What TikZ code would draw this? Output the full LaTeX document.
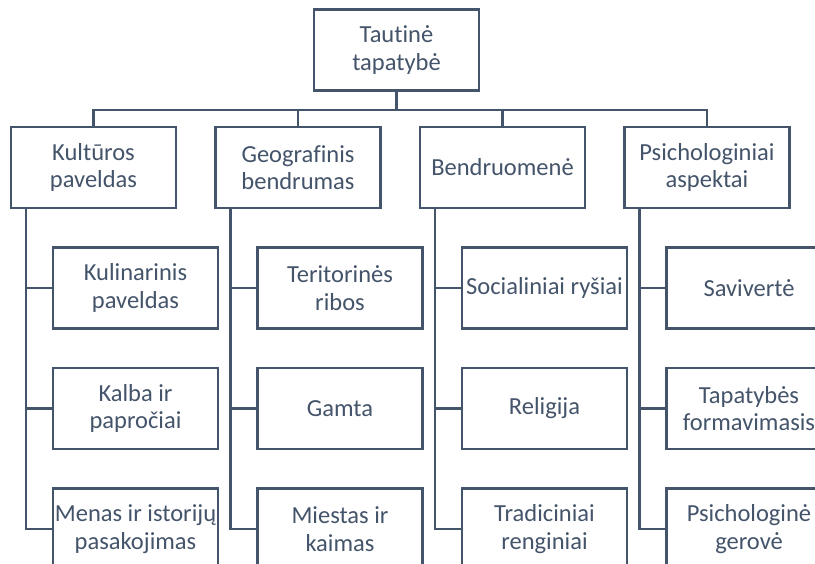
\documentclass[tikz,border=0pt]{standalone}
\usepackage{fontspec}
\setmainfont{Carlito}[RawFeature=-liga]
\usetikzlibrary{positioning}
\definecolor{slate}{HTML}{44546A}

\begin{document}
\begin{tikzpicture}[
        x=1pt, y=-1pt,
        node distance=37pt,
        every node/.style={font=\fontsize{24.5}{27.5}\selectfont, text=slate},
        box/.style={draw=slate, line width=2.5pt, fill=white, minimum width=165pt, minimum height=81pt, align=center, inner sep=0pt},
        link/.style={draw=slate, line width=2.5pt}
    ]
        \useasboundingbox (0,0) rectangle (815,563);
        \clip (0,0) rectangle (815,563);

        % Šaknis ir pirmas lygis
        \node[box] (root) at (396.5,50) {Tautinė\\tapatybė};
        \node[box] (kult) at (93.5,167.5) {Kultūros\\paveldas};
        \node[box, right=of kult] (geo) {Geografinis\\bendrumas};
        \node[box, right=of geo] (bendr) {Bendruomenė};
        \node[box, right=of bendr] (psich) {Psichologiniai\\aspektai};

        % Antras lygis
        \node[box, below=of kult, xshift=42pt] (kult1) {Kulinarinis\\paveldas};
        \node[box, below=of kult1] (kult2) {Kalba ir\\papročiai};
        \node[box, below=of kult2] (kult3) {Menas ir istorijų\\pasakojimas};
        \node[box, below=of geo, xshift=42pt] (geo1) {Teritorinės\\ribos};
        \node[box, below=of geo1] (geo2) {Gamta};
        \node[box, below=of geo2] (geo3) {Miestas ir\\kaimas};
        \node[box, below=of bendr, xshift=42pt] (bendr1) {Socialiniai ryšiai};
        \node[box, below=of bendr1] (bendr2) {Religija};
        \node[box, below=of bendr2] (bendr3) {Tradiciniai\\renginiai};
        \node[box, below=of psich, xshift=42pt] (psich1) {Savivertė};
        \node[box, below=of psich1] (psich2) {Tapatybės\\formavimasis};
        \node[box, below=of psich2] (psich3) {Psichologinė\\gerovė};

        % Jungtys nuo šaknies
        \draw[link] (root.south) -- ++(0,18) -| (kult.north);
        \draw[link] (root.south) -- ++(0,18) -| (geo.north);
        \draw[link] (root.south) -- ++(0,18) -| (bendr.north);
        \draw[link] (root.south) -- ++(0,18) -| (psich.north);

        % Jungtys į antrą lygį
        \draw[link] ([xshift=16pt]kult.south west) |- (kult1.west);
        \draw[link] ([xshift=16pt]kult.south west) |- (kult2.west);
        \draw[link] ([xshift=16pt]kult.south west) |- (kult3.west);
        \draw[link] ([xshift=16pt]geo.south west) |- (geo1.west);
        \draw[link] ([xshift=16pt]geo.south west) |- (geo2.west);
        \draw[link] ([xshift=16pt]geo.south west) |- (geo3.west);
        \draw[link] ([xshift=16pt]bendr.south west) |- (bendr1.west);
        \draw[link] ([xshift=16pt]bendr.south west) |- (bendr2.west);
        \draw[link] ([xshift=16pt]bendr.south west) |- (bendr3.west);
        \draw[link] ([xshift=16pt]psich.south west) |- (psich1.west);
        \draw[link] ([xshift=16pt]psich.south west) |- (psich2.west);
        \draw[link] ([xshift=16pt]psich.south west) |- (psich3.west);
    \end{tikzpicture}
\end{document}
